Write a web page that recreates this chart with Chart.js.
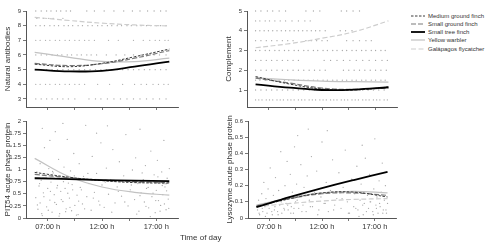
<!DOCTYPE html>
<html>
<head>
<meta charset="utf-8">
<script src="https://cdn.jsdelivr.net/npm/chart.js@4.4.0/dist/chart.umd.min.js"></script>
<style>
  body { margin: 0; background: #fff; width: 490px; height: 251px; overflow: hidden; position: relative;
         font-family: "Liberation Sans", Arial, sans-serif; }
  canvas { position: absolute; }
  #xtitle { position: absolute; left: 180px; top: 233px; font-size: 8px; color: #333; white-space: nowrap; }
  .leg { position: absolute; left: 411px; height: 8px; display: flex; align-items: center; font-size: 6px; color: #333; white-space: nowrap; }
  .leg svg { margin-right: 3px; }
</style>
</head>
<body>
<canvas id="pAntibody"></canvas>
<canvas id="pComplement"></canvas>
<canvas id="pPit"></canvas>
<canvas id="pLyso"></canvas>
<div id="xtitle">Time of day</div>
<div id="legend"></div>
<script>
// shared axis stuff
const xTickValues = [7, 9.5, 12, 14.5, 17];
const xTickLabels = ['07:00 h', '', '12:00 h', '', '17:00 h'];
const species = ['Medium ground finch', 'Small ground finch', 'Small tree finch', 'Yellow warbler', 'Galápagos flycatcher'];
const fitHours = [5.8, 9, 12, 15, 18.2];

// fitted curves (one row per species, same order as above)
const antibodyFit = [
    [5.37, 5.2, 5.43, 5.88, 6.4],
    [5.42, 5.28, 5.4, 5.78, 6.3],
    [5.0, 4.88, 4.92, 5.2, 5.55],
    [6.18, 5.84, 5.56, 5.55, 5.78],
    [8.57, 8.35, 8.17, 8.05, 7.98]
];
const complementFit = [
    [1.68, 1.3, 1.05, 1.0, 1.15],
    [1.6, 1.35, 1.1, 1.03, 1.1],
    [1.29, 1.12, 1.0, 1.02, 1.14],
    [1.62, 1.52, 1.45, 1.42, 1.4],
    [3.14, 3.35, 3.62, 3.95, 4.5]
];
const pitFit = [
    [0.94, 0.84, 0.77, 0.73, 0.72],
    [0.9, 0.83, 0.78, 0.75, 0.73],
    [0.82, 0.8, 0.78, 0.77, 0.76],
    [1.23, 0.85, 0.64, 0.53, 0.47],
    [0.83, 0.82, 0.79, 0.75, 0.7]
];
const lysoFit = [
    [0.07, 0.12, 0.155, 0.16, 0.13],
    [0.075, 0.12, 0.15, 0.155, 0.14],
    [0.067, 0.13, 0.185, 0.235, 0.285],
    [0.08, 0.125, 0.155, 0.165, 0.155],
    [0.07, 0.09, 0.105, 0.115, 0.12]
];

// y ticks
const antibodyTicks = [3, 4, 5, 6, 7, 8, 9];
const complementTicks = [1, 2, 3, 4, 5];
const pitTicks = [0, 0.25, 0.5, 0.75, 1, 1.25, 1.5, 1.75, 2];
const pitTickLabels = ['0', '0.25', '0.5', '0.75', '1', '1.25', '1.5', '1.75', '2'];
const lysoTicks = [0, 0.1, 0.2, 0.3, 0.4, 0.5, 0.6];

// raw measurements: titre levels with sampling times
const antibodyLevels = [9, 8.5, 8, 7, 6, 5, 4, 3];
const antibodyTimes = [
    [5.9, 6.4, 6.9, 7.3, 7.8, 8.2, 8.7, 9.1, 10.6, 11.3, 12.2, 13.1, 14.0, 14.8, 15.5, 16.2, 16.8, 17.4, 17.9],
    [6.0, 6.6, 7.1, 7.5, 8.4],
    [5.9, 6.3, 6.7, 7.2, 7.6, 8.0, 8.5, 8.9, 9.3, 9.8, 10.2, 10.7, 11.1, 11.6, 12.0, 12.5, 12.9, 13.4, 13.8, 14.3, 14.7, 15.2, 15.6, 16.1, 16.5, 17.0, 17.4, 17.9],
    [5.9, 6.3, 6.8, 7.2, 7.7, 8.1, 8.6, 9.0, 9.5, 9.9, 10.4, 10.8, 11.3, 12.6, 13.5, 14.9, 15.8, 16.4, 16.9, 17.3, 17.8, 18.1],
    [5.9, 6.4, 6.9, 7.4, 7.9, 8.3, 8.8, 9.2, 9.7, 10.1, 10.6, 11.0, 11.5, 12.4, 13.3, 14.1, 14.9, 15.6, 16.2, 16.8, 17.3, 17.9],
    [5.9, 6.4, 6.9, 7.4, 7.9, 8.4, 8.9, 9.4, 9.9, 10.4, 10.9, 11.4, 11.9, 12.4, 12.9, 13.4, 13.9, 14.4, 14.9, 15.4, 15.9, 16.4, 16.9, 17.4, 17.9],
    [5.9, 6.3, 6.8, 7.2, 7.7, 8.1, 8.6, 9.0, 9.5, 9.9, 10.4, 11.6, 12.7, 13.9, 15.0, 15.6, 16.1, 16.7, 17.2, 17.7, 18.1],
    [5.9, 6.4, 6.9, 7.4, 7.9, 8.4, 8.9, 9.5, 10.8, 11.4, 11.9, 12.5, 13.1, 13.7, 14.3, 14.9, 15.5, 16.1, 16.7, 17.3, 17.9]
];
const complementLevels = [5, 4.5, 4, 3.5, 3, 2.5, 2, 1.5, 1, 0.5];
const complementTimes = [
    [5.8, 6.3, 6.9, 7.4, 8.0, 8.6, 10.5, 11.2, 11.8, 13.8, 14.3, 14.9, 15.5],
    [5.8, 6.2, 6.7, 7.1, 7.6, 8.1, 8.6, 9.2, 9.8, 10.4, 10.9],
    [5.8, 6.2, 6.6, 7.0, 7.4, 7.8, 8.2, 8.6, 9.0, 9.4, 9.8, 10.2, 10.6, 11.0, 11.4, 11.8, 12.3, 13.7, 14.2, 14.8],
    [5.8, 6.3, 6.8, 7.3, 7.8, 8.3, 8.8, 9.3, 10.5, 11.0, 11.5, 12.0, 12.5, 14.3, 14.9, 15.5, 16.1, 16.6],
    [5.8, 6.2, 6.7, 7.1, 7.6, 8.0, 8.5, 8.9, 9.4, 9.8, 10.3, 10.7, 11.2, 11.6, 12.1, 12.5, 13.0, 13.4, 13.9, 14.3, 14.8, 15.2, 15.7, 16.1, 16.6, 17.0, 17.5, 17.9],
    [5.8, 6.3, 6.8, 7.3, 7.8, 8.3, 8.8, 9.3, 9.8, 12.2, 12.8, 13.4, 14.0, 14.6, 15.2, 15.8, 16.4, 17.0, 17.6, 18.1],
    [5.8, 6.3, 6.8, 7.3, 7.8, 8.3, 8.8, 9.3, 9.8, 10.3, 10.8, 11.3, 11.8, 12.3, 14.0, 14.5, 15.0, 15.5, 16.0, 16.5, 17.0, 17.5, 18.0],
    [5.8, 6.2, 6.7, 7.1, 7.6, 8.0, 8.5, 8.9, 9.4, 9.8, 10.3, 10.7, 11.2, 11.6, 12.1, 12.5, 13.0, 13.4, 13.9, 14.3, 14.8, 15.2, 15.7, 16.1, 16.6, 17.0, 17.5, 17.9],
    [5.8, 6.3, 6.8, 7.3, 7.8, 8.3, 8.8, 9.3, 9.8, 10.3, 10.8, 11.3, 11.8, 12.3, 12.8, 13.3, 13.8, 14.3, 14.8, 15.3, 15.8, 16.3, 16.8, 17.3, 17.8],
    [5.8, 6.1, 6.4, 6.8, 7.1, 7.4, 7.8, 8.1, 8.4, 8.8, 9.1, 9.4, 9.8, 10.1, 10.4, 10.8, 11.1, 11.4, 11.8, 12.1, 12.4, 12.8, 13.1, 13.4, 13.8, 14.1, 14.4, 14.8, 15.1, 15.4, 15.8, 16.1, 16.4, 16.8, 17.1, 17.4, 17.8, 18.1]
];

// PIT54 and lysozyme samples (hour, value)
const pitHours = [5.9, 6.0, 6.1, 6.2, 6.3, 6.3, 6.4, 6.5, 6.6, 6.7, 6.8, 6.9, 7.0, 7.1, 7.2, 7.3, 7.4, 7.5, 7.6, 7.7,
    7.8, 7.9, 8.0, 8.1, 8.2, 8.3, 8.4, 8.5, 8.6, 8.7, 8.8, 8.9, 9.0, 9.1, 9.2, 9.3, 9.4, 9.5, 9.6, 9.7,
    9.8, 9.9, 10.0, 10.2, 10.3, 10.5, 10.6, 10.8, 11.0, 11.1, 11.3, 11.5, 11.7, 11.9, 12.0, 12.2, 12.4, 12.6, 12.8, 13.0,
    13.2, 13.4, 13.6, 13.8, 14.0, 14.2, 14.4, 14.6, 14.8, 15.0, 15.1, 15.3, 15.4, 15.6, 15.7, 15.9, 16.0, 16.1, 16.3, 16.4,
    16.5, 16.6, 16.8, 16.9, 17.0, 17.1, 17.2, 17.3, 17.4, 17.5, 17.6, 17.7, 17.8, 17.9, 18.0, 18.1, 18.2,
    6.5, 8.4, 12.5, 15.5, 11.5, 7.2,
    6.05, 6.25, 6.45, 6.65, 6.85, 7.05, 7.25, 7.45, 7.65, 7.85, 8.05, 8.25, 8.45, 8.65, 8.85, 9.05, 9.25, 9.45, 9.65, 9.85,
    10.1, 10.4, 10.7, 11.2, 11.8, 12.3, 12.9, 13.5, 14.1, 14.7, 15.2, 15.5, 15.8, 16.05, 16.25, 16.45, 16.7, 16.95, 17.15, 17.35,
    17.55, 17.75, 17.95, 18.15];
const pitValues = [0.42, 0.95, 0.18, 0.66, 1.12, 0.31, 0.78, 0.05, 0.52, 1.45, 0.88, 0.23, 0.61, 1.02, 0.37, 0.74, 0.12, 0.93, 0.48, 1.78,
    0.28, 0.67, 1.21, 0.09, 0.55, 0.83, 0.34, 1.05, 0.61, 0.19, 1.62, 0.72, 0.41, 0.97, 0.15, 0.58, 1.33, 0.26, 0.81, 0.47,
    0.07, 1.12, 0.63, 0.29, 0.86, 1.91, 0.44, 0.71, 0.16, 1.27, 0.53, 0.92, 0.35, 1.55, 0.68, 0.22, 1.03, 0.49, 0.79, 1.41,
    0.31, 0.64, 1.16, 0.45, 0.87, 1.72, 0.25, 0.58, 0.99, 0.38, 1.24, 0.71, 0.14, 0.52, 0.93, 0.33, 1.08, 0.61, 0.21, 0.77,
    1.38, 0.44, 0.89, 0.11, 0.57, 1.19, 0.36, 0.73, 0.26, 0.95, 0.48, 1.6, 0.64, 0.17, 0.82, 0.39, 1.02,
    1.85, 1.95, 1.9, 1.83, 1.75, 1.6,
    0.27, 0.71, 0.09, 0.44, 0.83, 0.16, 0.55, 0.96, 0.32, 0.62, 0.04, 0.38, 0.75, 0.13, 0.51, 0.22, 0.69, 0.87, 0.06, 0.35,
    0.58, 0.19, 0.92, 0.41, 0.27, 0.74, 0.12, 0.55, 0.33, 0.68, 0.08, 0.46, 0.79, 0.24, 0.63, 0.03, 0.51, 0.36, 0.85, 0.14,
    0.67, 0.29, 0.56, 0.2];
const lysoHours = [5.9, 6.0, 6.1, 6.2, 6.3, 6.4, 6.5, 6.6, 6.7, 6.8, 6.9, 7.0, 7.1, 7.2, 7.3, 7.4, 7.5, 7.6, 7.7, 7.8,
    7.9, 8.0, 8.1, 8.2, 8.3, 8.4, 8.5, 8.6, 8.7, 8.8, 8.9, 9.0, 9.1, 9.2, 9.3, 9.4, 9.5, 9.6,
    9.8, 9.9, 10.0, 10.2, 10.3, 10.5, 10.6, 10.8, 11.0, 11.1, 11.3, 11.5, 11.7, 11.9, 12.0, 12.2, 12.4, 12.6, 12.8, 13.0,
    13.2, 13.4, 13.6, 13.8, 14.0, 14.2, 14.4, 14.6, 14.8, 15.0, 15.1, 15.3, 15.4, 15.6, 15.7, 15.9, 16.0, 16.1, 16.3, 16.4,
    16.5, 16.6, 16.8, 16.9, 17.0, 17.1, 17.2, 17.3, 17.4, 17.5, 17.6, 17.7, 17.8, 17.9, 18.0, 18.1, 18.2,
    12.5, 9.7, 15.8, 10.7,
    6.05, 6.35, 6.65, 6.95, 7.25, 7.55, 7.85, 8.15, 8.45, 8.75, 9.05, 9.35, 9.65, 10.1, 10.9, 11.6, 12.3, 13.1, 13.9, 14.5,
    15.2, 15.5, 15.85, 16.2, 16.55, 16.85, 17.15, 17.45, 17.75, 18.05];
const lysoValues = [0.05, 0.11, 0.02, 0.08, 0.15, 0.04, 0.22, 0.07, 0.12, 0.03, 0.18, 0.06, 0.31, 0.09, 0.02, 0.14, 0.05, 0.25, 0.1, 0.04,
    0.17, 0.08, 0.41, 0.03, 0.12, 0.06, 0.2, 0.09, 0.35, 0.05, 0.13, 0.27, 0.07, 0.16, 0.03, 0.44, 0.1, 0.21,
    0.06, 0.14, 0.33, 0.08, 0.19, 0.04, 0.26, 0.11, 0.38, 0.07, 0.16, 0.29, 0.05, 0.13, 0.47, 0.09, 0.22, 0.04, 0.17, 0.36,
    0.08, 0.12, 0.28, 0.06, 0.19, 0.42, 0.1, 0.03, 0.24, 0.07, 0.15, 0.32, 0.05, 0.11, 0.21, 0.02, 0.09, 0.37, 0.14, 0.06,
    0.27, 0.1, 0.04, 0.18, 0.49, 0.08, 0.13, 0.03, 0.23, 0.07, 0.16, 0.34, 0.05, 0.11, 0.2, 0.03, 0.09,
    0.54, 0.51, 0.45, 0.55,
    0.03, 0.06, 0.01, 0.09, 0.04, 0.07, 0.02, 0.1, 0.05, 0.08, 0.03, 0.06, 0.11, 0.04, 0.07, 0.02, 0.09, 0.05, 0.12, 0.03,
    0.06, 0.01, 0.08, 0.04, 0.1, 0.02, 0.06, 0.09, 0.03, 0.05];

// line look per species
const lineStyles = [
    { color: '#3c3c3c', width: 1, dash: [2.5, 1.5] },
    { color: '#7a7a7a', width: 1.2, dash: [5, 2] },
    { color: '#000000', width: 1.8, dash: [] },
    { color: '#c2c2c2', width: 1.2, dash: [] },
    { color: '#cdcdcd', width: 1.2, dash: [5, 2.5] }
];
const FONT = '"Liberation Sans", Arial, sans-serif';

function rowsToPoints(levels, times) {
    return levels.flatMap((y, i) => times[i].map(x => ({ x, y })));
}
function pairsToPoints(xs, ys) {
    return xs.map((x, i) => ({ x, y: ys[i] }));
}

function buildPanel(p) {
    const canvas = document.getElementById(p.id);
    canvas.width = p.w;
    canvas.height = p.h;
    canvas.style.left = p.left + 'px';
    canvas.style.top = p.top + 'px';

    const datasets = species.map((name, i) => ({
        label: name,
        data: fitHours.map((x, k) => ({ x, y: p.fits[i][k] })),
        showLine: true,
        pointRadius: 0,
        borderColor: lineStyles[i].color,
        borderWidth: lineStyles[i].width,
        borderDash: lineStyles[i].dash,
        tension: 0.4,
        order: i === 2 ? 0 : 1
    }));
    datasets.push({
        label: 'samples',
        data: p.dots,
        pointRadius: 0.65,
        pointBackgroundColor: '#a8a8a8',
        pointBorderWidth: 0,
        showLine: false,
        clip: false,
        order: 5
    });

    const axisGrid = { drawOnChartArea: false, drawTicks: true, tickLength: 3, color: '#555', lineWidth: 0.8 };
    const axisBorder = { display: true, color: '#555', width: 1 };

    new Chart(canvas, {
        type: 'scatter',
        data: { datasets },
        options: {
            responsive: false,
            animation: false,
            devicePixelRatio: 1,
            layout: { padding: { top: 11, right: 2, left: 0, bottom: 0 } },
            plugins: { legend: { display: false }, tooltip: { enabled: false } },
            scales: {
                x: {
                    type: 'linear', min: 5, max: 19,
                    afterBuildTicks: s => { s.ticks = xTickValues.map(v => ({ value: v })); },
                    afterFit: s => { s.height = p.xh; },
                    grid: axisGrid,
                    border: axisBorder,
                    ticks: {
                        display: p.xLabels, autoSkip: false, maxRotation: 0, padding: 1, color: '#333',
                        font: { family: FONT, size: 7.5 },
                        callback: (v, i) => xTickLabels[i]
                    }
                },
                y: {
                    min: p.yMin, max: p.yMax,
                    afterBuildTicks: s => { s.ticks = p.yTicks.map(v => ({ value: v })); },
                    afterFit: s => { s.width = 26; },
                    grid: axisGrid,
                    border: axisBorder,
                    ticks: {
                        padding: 2, color: '#333', font: { family: FONT, size: 6 },
                        callback: (v, i) => p.yLabels[i]
                    },
                    title: {
                        display: true, text: p.yTitle, color: '#333',
                        font: { family: FONT, size: 8 }, padding: { top: 3, bottom: 0 }
                    }
                }
            }
        }
    });
}

buildPanel({
    id: 'pAntibody', left: 0, top: 0, w: 182, h: 116, xh: 9, xLabels: false,
    yTitle: 'Natural antibodies', yMin: 2.45, yMax: 9,
    yTicks: antibodyTicks, yLabels: antibodyTicks.map(String),
    fits: antibodyFit, dots: rowsToPoints(antibodyLevels, antibodyTimes)
});
buildPanel({
    id: 'pComplement', left: 221, top: 0, w: 180, h: 116, xh: 9, xLabels: false,
    yTitle: 'Complement', yMin: 0.14, yMax: 5,
    yTicks: complementTicks, yLabels: complementTicks.map(String),
    fits: complementFit, dots: rowsToPoints(complementLevels, complementTimes)
});
buildPanel({
    id: 'pPit', left: 0, top: 110, w: 182, h: 141, xh: 33, xLabels: true,
    yTitle: 'PIT54 acute phase protein', yMin: 0, yMax: 2,
    yTicks: pitTicks, yLabels: pitTickLabels,
    fits: pitFit, dots: pairsToPoints(pitHours, pitValues)
});
buildPanel({
    id: 'pLyso', left: 222, top: 110, w: 178, h: 141, xh: 33, xLabels: true,
    yTitle: 'Lysozyme acute phase protein', yMin: 0, yMax: 0.6,
    yTicks: lysoTicks, yLabels: lysoTicks.map(String),
    fits: lysoFit, dots: pairsToPoints(lysoHours, lysoValues)
});

// legend
const legend = document.getElementById('legend');
species.forEach((name, i) => {
    const st = lineStyles[i];
    const row = document.createElement('div');
    row.className = 'leg';
    row.style.top = (11.5 + i * 8.3) + 'px';
    row.innerHTML = '<svg width="14" height="4"><line x1="0" y1="2" x2="14" y2="2" stroke="' + st.color +
        '" stroke-width="' + st.width + '" stroke-dasharray="' + (st.dash.join(',') || 'none') + '"/></svg><span>' + name + '</span>';
    legend.appendChild(row);
});
</script>
</body>
</html>
